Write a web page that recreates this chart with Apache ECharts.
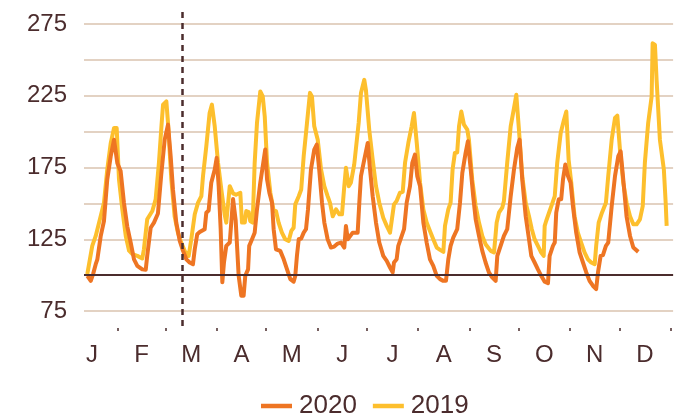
<!DOCTYPE html>
<html><head><meta charset="utf-8">
<script src="https://cdn.jsdelivr.net/npm/echarts@6/dist/echarts.min.js"></script>
<style>html,body{margin:0;padding:0;background:#fff}#c{width:675px;height:414px}</style>
</head><body><div id="c"></div>
<script>
// Month labels (letters) placed at mid-month day positions; ticks at month ends (day-of-year, Jan 1 = 0)
const monthLabels = ['J','F','M','A','M','J','J','A','S','O','N','D'];
const monthMid = [15.5, 45.5, 75.5, 106, 136.5, 167, 197.5, 228.5, 259, 289.5, 320, 350.5];
const monthEnds = [31, 60, 91, 121, 152, 182, 213, 244, 274, 305, 335, 366];
const yLabelTicks = [75, 125, 175, 225, 275];
const baselineValue = 100;
const markerDay = 70;

const days2020 = [12.6,14.7,16.1,17.7,18.7,20.7,22.7,24.7,26.8,28.8,30.8,32.8,34.8,36.8,38.9,40.9,42.9,45.9,48.0,48.9,51.0,53.0,55.4,57.4,59.5,61.5,63.1,64.5,66.5,68.6,70.6,72.6,74.6,76.6,77.7,79.2,80.7,83.7,84.7,86.1,87.7,89.8,91.0,92.2,93.4,94.4,95.4,96.8,98.9,100.9,102.5,104.3,105.9,107.3,108.3,110.0,110.7,112.4,114.0,115.4,117.4,119.5,120.4,121.5,122.9,124.5,125.5,126.9,129.5,131.6,133.6,135.6,137.6,138.6,139.6,140.7,142.2,143.7,145.1,146.3,148.1,150.1,151.6,153.1,154.8,156.2,158.2,160.2,162.2,164.3,166.3,168.3,169.3,170.4,171.3,173.4,174.3,176.4,177.4,178.4,180.4,182.5,183.9,185.5,187.5,189.5,191.9,194.0,196.0,197.6,198.4,200.0,201.0,203.1,204.5,206.1,208.1,209.5,211.1,212.5,214.2,216.2,218.2,220.2,222.2,224.3,226.3,228.3,229.9,231.3,232.7,234.3,236.7,238.4,239.8,241.8,243.2,244.9,246.4,247.9,249.9,251.9,253.9,255.9,257.9,260.0,261.0,263.0,265.0,267.0,269.1,271.1,273.1,274.5,276.1,278.2,280.2,281.6,283.6,285.6,287.6,289.7,291.7,292.7,294.7,295.8,296.7,298.2,299.7,300.8,302.2,303.8,305.4,306.8,308.8,310.9,312.9,314.9,316.9,318.9,320.9,322.0,323.6,325.0,326.8,328.2,330.3,332.3,334.3,335.7,337.3,339.3,341.4,343.4,346.4];
const vals2020 = [99.5,96,100.7,107.6,111,127,137.7,166.7,182.9,194.4,178,172.5,150.5,134,122.7,111,106.5,104,103.7,113.4,133,136.6,143,170,194.4,204.9,182.9,159.7,136.6,123.8,116.9,111,108.8,107.6,118,128.5,130,132,143.5,145,164.4,173.6,181.7,162,132,95,108.8,120.4,122.7,153,138,99.5,85.6,85.6,99.5,104,120.4,125,129.6,145.8,164.4,180.5,187.5,166.7,157.4,150.5,132,118,116.9,111,104,97.2,95.4,99.5,113.4,125,125.5,129.6,132,145.8,173.6,187.5,191,173.6,150.5,136.6,125,119.2,119.9,122,122.7,119.2,134.3,125,126,129.6,130.2,129.6,150.5,169,180.5,192.1,173.6,155,136.6,122.7,113.4,109.9,105.3,101.9,108.8,111,120.4,127.3,132,150.5,162,178.3,184,169,162,136.6,122.7,111,106.5,99.5,97.2,96,96,111,120.4,126.2,132,150.5,171.3,185.2,193.3,173.6,155,138.9,127.3,116.9,108.8,101.9,98.4,96,113.4,120.4,127.3,132,155,173.6,188.7,194.4,166.7,141,125,113.4,108.8,104,99.5,95.4,94.4,113.4,120.4,122.7,143.5,152.8,152.8,166.7,177.1,169,164.4,148.1,129.6,115.7,108.8,101.9,96,92.6,90.3,101.9,113.4,114,120.4,122.7,148.1,169,182.9,186.3,166.7,141,127.3,119.2,116.2];

const days2019 = [12.6,15.6,17.7,20.7,22.7,24.7,26.8,28.8,30.4,31.8,33.8,35.9,37.9,39.9,42.9,45.9,46.9,48.9,52.0,54.0,56.0,57.6,58.5,60.5,61.5,63.5,65.5,67.5,69.5,71.6,74.0,75.6,77.7,79.7,81.7,82.7,84.7,86.7,88.1,89.8,91.8,93.8,95.8,96.8,97.8,98.9,100.9,102.7,105.3,106.3,108.0,108.9,110.4,111.3,112.8,114.0,115.4,117.4,118.9,120.1,121.5,123.5,125.5,126.9,128.5,130.5,132.5,134.6,136.2,137.6,138.6,140.7,142.2,143.7,145.7,147.5,148.7,150.1,152.2,154.2,156.2,158.2,159.6,161.3,163.3,165.3,166.9,168.3,169.3,171.0,172.3,174.3,175.4,177.0,178.4,180.4,181.4,183.4,185.5,187.5,189.5,191.9,194.0,196.0,197.0,198.4,200.0,202.0,203.7,205.1,207.1,209.1,210.5,212.2,214.2,216.2,218.2,220.2,222.2,224.3,226.3,228.3,229.3,231.3,232.7,233.9,235.3,236.7,237.8,239.2,240.8,242.8,243.8,245.8,247.9,249.9,251.9,253.9,257.0,259.0,260.6,262.0,264.0,265.0,267.0,269.1,271.1,272.5,274.1,276.1,278.2,280.2,281.9,283.6,285.6,287.6,289.1,289.7,290.6,292.7,294.1,295.8,297.3,299.4,301.4,302.8,304.2,305.8,307.8,309.8,311.8,313.9,315.9,317.9,320.0,320.9,322.4,324.4,326.8,328.2,330.3,332.3,333.7,335.3,337.3,339.3,341.4,343.4,345.4,347.4,349.1,350.4,352.4,354.5,355.1,356.5,357.5,359.5,361.9,363.0,363.6];
const vals2019 = [100.7,120.4,127.3,141,150.5,173.6,192,202.5,202.5,166.7,145.8,127.3,117,114.6,113.4,111.6,118,138.9,144.7,152.8,178.3,205,218.8,221,206,166.7,141,129.6,122.7,116.9,113.4,125,142.4,150.5,155,169,189.8,213,218.8,203.7,178.3,159.7,142.4,136.6,137,162,157,156,157.4,136.6,136.6,144.7,144,137.7,136.6,178.3,206,228,224.5,210.6,178.3,157.4,144.7,144.7,136.6,129.6,125,123.8,130.8,133,149.3,155,159.7,182.9,206,227,224.5,203.7,194.4,173.6,162,155,150.5,141,145.8,142.4,142.4,162,174.8,162,164.4,177,177.5,206,226.9,236.1,229,201.4,180.5,162,150.5,140,134.3,129.6,129,149.3,151.6,157.4,158,178.3,192.1,203.7,213,192.1,164.4,145.8,136.6,130.8,125,119.2,117.6,116.2,134.3,145.8,150.5,173.6,185.2,185.5,203.7,214,204.9,201.4,194.4,166.7,148.1,136.6,127.3,121.5,116.9,115.8,136.6,143.5,147,151.6,178.3,203.7,216.4,225.7,201.4,169,150.5,141,132,125,120.4,115.7,113.4,134.3,137.7,144.7,149.3,155,178.3,199,208.3,214,180.5,164.4,141,129.6,122.7,115.7,111,108.8,107.6,120.4,136.6,143.5,150.5,169,194.4,209.5,211.1,187.5,164.4,150.5,141,135.4,135.4,138.9,148.1,178.3,206,224.5,261.6,260.4,236.1,194.4,173.6,150.5,134.3];

const pair = (d, v) => d.map((x, i) => [x, v[i]]);
const DARK = '#4b2c2d';
const GRID = '#e3d2c3';
const ORANGE = '#ee7523';
const YELLOW = '#fdbf2d';
const FONT = '"Liberation Sans", Arial, sans-serif';
const xMin = 10.6, xMax = 367.5;

const chart = echarts.init(document.getElementById('c'), null, {renderer: 'canvas'});
chart.setOption({
  animation: false,
  backgroundColor: '#fff',
  grid: [
    {left: 84, right: 1.9, top: 24, bottom: 103},
    {left: 84, right: 1.9, top: 8, bottom: 88}
  ],
  legend: {
    data: ['2020', '2019'],
    left: 256, top: 388,
    icon: 'rect', itemWidth: 31, itemHeight: 4.5, itemGap: 16,
    textStyle: {fontSize: 26, color: DARK, fontFamily: FONT, padding: [0, 0, 0, 2]}
  },
  xAxis: [
    {
      type: 'value', gridIndex: 0, min: xMin, max: xMax, offset: 17,
      axisLine: {show: false},
      splitLine: {show: false},
      axisTick: {show: true, customValues: monthEnds, length: 3, lineStyle: {color: DARK, width: 1.5}},
      axisLabel: {
        customValues: monthMid, margin: 15, fontSize: 24, color: DARK, fontFamily: FONT,
        formatter: v => monthLabels[monthMid.indexOf(v)] || ''
      }
    },
    {type: 'value', gridIndex: 1, min: xMin, max: xMax, show: false}
  ],
  yAxis: [
    {
      type: 'value', gridIndex: 0, min: 75, max: 275, interval: 25,
      axisLine: {show: false}, axisTick: {show: false},
      splitLine: {show: true, lineStyle: {color: GRID, width: 2}},
      axisLabel: {
        margin: 17, fontSize: 24, color: DARK, fontFamily: FONT,
        formatter: v => yLabelTicks.includes(v) ? String(v) : ''
      }
    },
    {type: 'value', gridIndex: 1, min: 0, max: 1, show: false}
  ],
  series: [
    {
      name: 'baseline', type: 'line', xAxisIndex: 0, yAxisIndex: 0, z: 1,
      data: [], symbol: 'none', silent: true,
      markLine: {silent: true, symbol: ['none', 'none'], label: {show: false},
        lineStyle: {color: DARK, width: 2, type: 'solid'},
        data: [{yAxis: baselineValue}]}
    },
    {
      name: 'marker', type: 'line', xAxisIndex: 1, yAxisIndex: 1, z: 1,
      data: [[markerDay, 0.5]], symbol: 'none', showSymbol: false, lineStyle: {opacity: 0}, silent: true,
      markLine: {silent: true, symbol: ['none', 'none'], label: {show: false},
        lineStyle: {color: DARK, width: 2.5, type: [6, 5]},
        data: [{xAxis: markerDay}]}
    },
    {
      name: '2019', type: 'line', xAxisIndex: 0, yAxisIndex: 0, z: 3,
      data: pair(days2019, vals2019), symbol: 'none', color: YELLOW,
      lineStyle: {width: 4, color: YELLOW, join: 'round'}
    },
    {
      name: '2020', type: 'line', xAxisIndex: 0, yAxisIndex: 0, z: 4,
      data: pair(days2020, vals2020), symbol: 'none', color: ORANGE,
      lineStyle: {width: 4, color: ORANGE, join: 'round'}
    }
  ]
});
</script>
</body></html>
